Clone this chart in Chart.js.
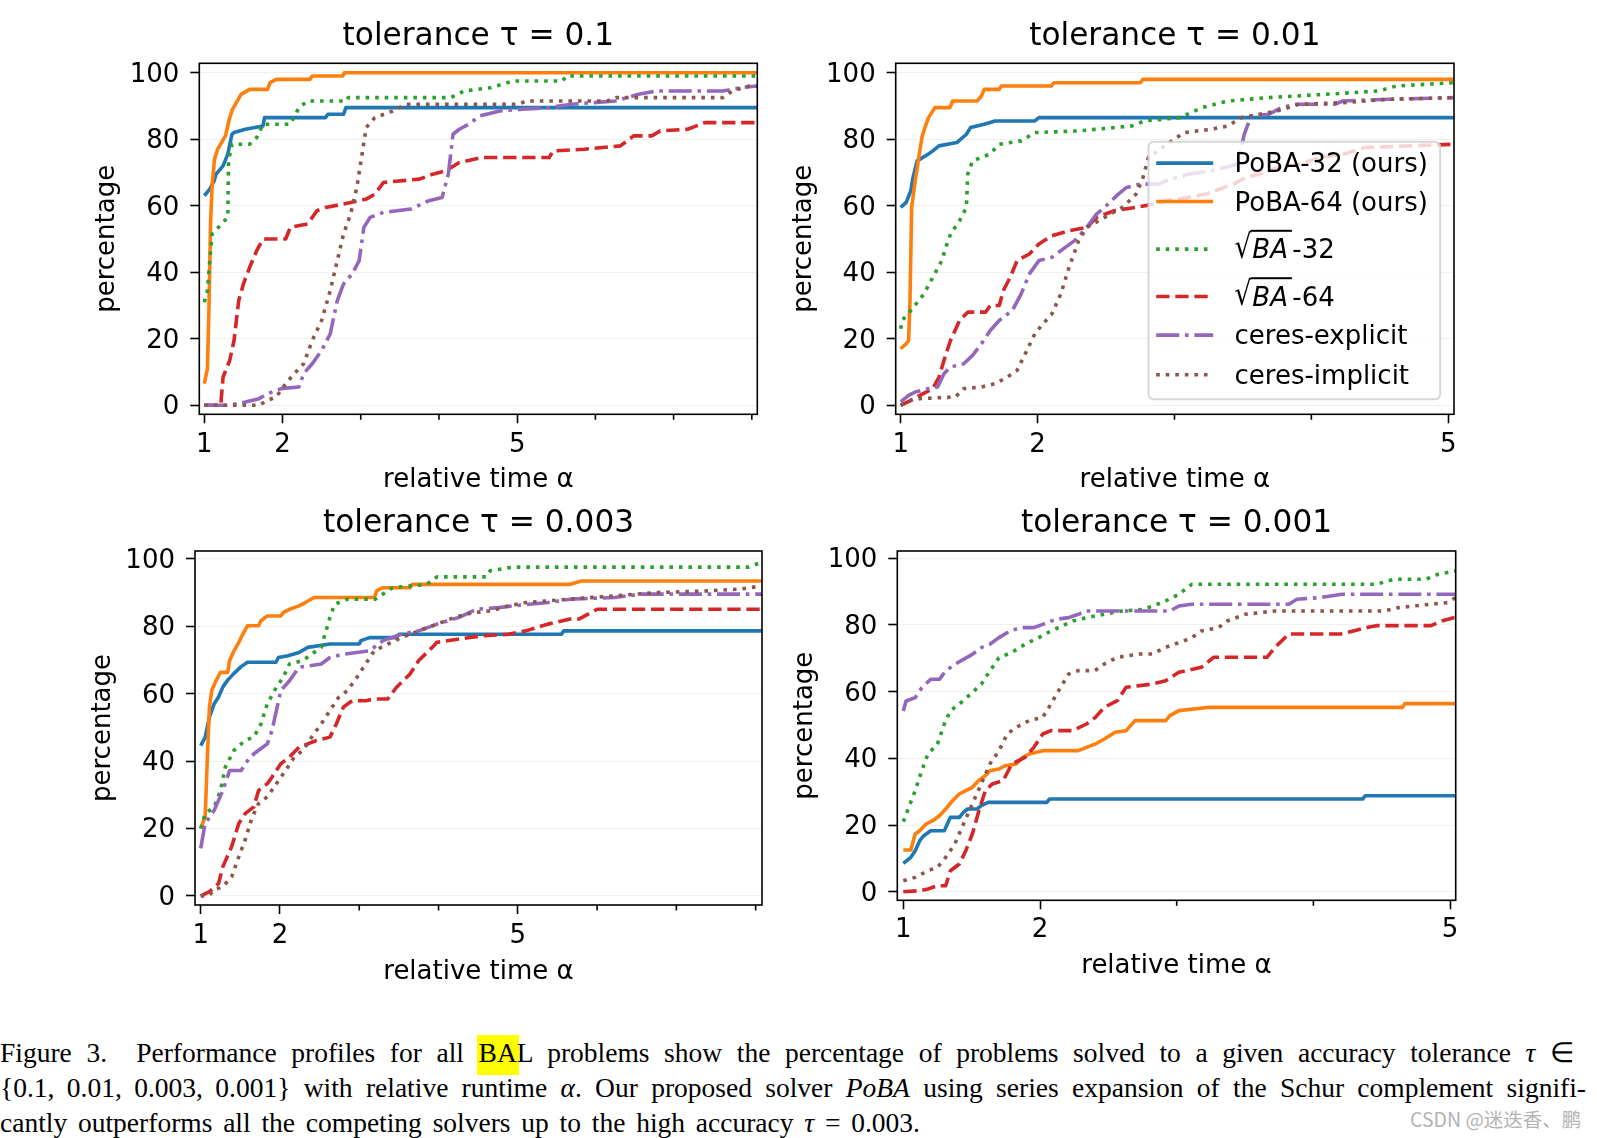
<!DOCTYPE html>
<html><head><meta charset="utf-8">
<script src="https://cdn.jsdelivr.net/npm/chart.js@4.4.1/dist/chart.umd.min.js"></script>
<style>
html,body{margin:0;padding:0;background:#fff;}
body{width:1597px;height:1138px;position:relative;overflow:hidden;}
canvas.panel{position:absolute;}
#cap{position:absolute;left:0;top:1034.8px;font-family:"Liberation Serif","Times New Roman",serif;font-size:27.5px;line-height:35.2px;color:#000;}
.l{white-space:nowrap;}
.j{text-align:justify;text-align-last:justify;white-space:normal;}
.hl{background:#ffff00;padding:2px 2px 7px 2px;margin:0 -2px;}
.ib{display:inline-block;white-space:nowrap;word-spacing:5.5px;}
.l3{word-spacing:3.9px;}
#wm{position:absolute;left:1410px;top:1104px;font-family:"Noto Sans CJK SC",sans-serif;font-size:19.5px;color:#b3b3b3;white-space:nowrap;}
</style></head><body>
<canvas id="c0" class="panel" width="770" height="500" style="left:0;top:0;width:770px;height:500px"></canvas>
<canvas id="c1" class="panel" width="827" height="500" style="left:770px;top:0;width:827px;height:500px"></canvas>
<canvas id="c2" class="panel" width="770" height="500" style="left:0;top:500px;width:770px;height:500px"></canvas>
<canvas id="c3" class="panel" width="827" height="500" style="left:770px;top:500px;width:827px;height:500px"></canvas>
<div id="cap">
<div class="l j" style="width:1574px">Figure 3.&nbsp; Performance profiles for all <span class="hl">BA</span>L problems show the percentage of problems solved to a given accuracy tolerance <i>τ</i> ∈</div>
<div class="l j" style="width:1586px"><span class="ib">{0.1, 0.01, 0.003, 0.001}</span> with relative runtime <i>α</i>. Our proposed solver <i>PoBA</i> using series expansion of the Schur complement signifi-</div>
<div class="l l3">cantly outperforms all the competing solvers up to the high accuracy <i>τ</i> = 0.003.</div>
</div>
<div id="wm">CSDN @迷迭香、鹏</div>
<script>
// ---------- labels / ticks ----------
const SERIES_LABELS = ['PoBA-32 (ours)', 'PoBA-64 (ours)', '√BA-32', '√BA-64', 'ceres-explicit', 'ceres-implicit'];
const PANEL_TITLES = ['tolerance τ = 0.1', 'tolerance τ = 0.01', 'tolerance τ = 0.003', 'tolerance τ = 0.001'];
const X_TITLE = 'relative time α';
const Y_TITLE = 'percentage';
const X_MAJOR_TICKS = [1, 2, 5];
const X_MINOR_TICKS_WIDE = [3, 4, 6, 7, 8];
const X_MINOR_TICKS_NARROW = [3, 4];
const Y_TICKS = [0, 20, 40, 60, 80, 100];

// ---------- tolerance 0.1 ----------
const T1_POBA32_X = [1.0, 1.07, 1.126, 1.15, 1.24, 1.30, 1.354, 1.38, 1.525, 1.75, 1.77, 2.55, 2.58, 2.78, 2.81, 8.07];
const T1_POBA32_Y = [63, 65, 67.5, 69.5, 72, 75.5, 81.5, 82, 83, 84, 86.5, 86.5, 87.5, 87.5, 89.5, 89.5];
const T1_POBA64_X = [1.0, 1.04, 1.06, 1.08, 1.10, 1.13, 1.17, 1.22, 1.27, 1.32, 1.36, 1.41, 1.47, 1.58, 1.81, 1.84, 1.92, 2.35, 2.38, 2.77, 2.79, 8.07];
const T1_POBA64_Y = [6.5, 11, 30, 55, 66, 74, 77, 79, 81, 86, 89, 91, 93.5, 95, 95, 97, 98, 98, 99, 99, 100, 100];
const T1_SQBA32_X = [1.0, 1.04, 1.07, 1.10, 1.18, 1.30, 1.31, 1.354, 1.58, 1.67, 1.75, 2.10, 2.21, 2.32, 2.82, 2.84, 4.15, 4.32, 4.66, 4.95, 5.58, 5.63, 8.07];
const T1_SQBA32_Y = [31, 34.5, 43.5, 51.5, 53.5, 56.5, 73.5, 78.5, 78.5, 80.5, 84.5, 84.5, 89.5, 91.5, 91.5, 92.5, 92.5, 94.5, 95.5, 97.5, 97.5, 99, 99];
const T1_SQBA64_X = [1.0, 1.21, 1.24, 1.325, 1.38, 1.44, 1.50, 1.58, 1.67, 1.75, 2.04, 2.10, 2.32, 2.44, 2.55, 2.78, 3.07, 3.18, 3.29, 3.75, 3.92, 4.09, 4.26, 4.55, 5.41, 5.46, 5.86, 6.32, 6.49, 6.72, 6.83, 7.18, 7.40, 8.07];
const T1_SQBA64_Y = [0, 0, 8.5, 13.5, 19.5, 31.5, 36.5, 41.5, 46.5, 50, 50, 53.5, 54.5, 58.5, 59.5, 60.5, 62, 63.5, 67, 68, 69.5, 70.5, 73, 74.5, 74.5, 76.5, 77, 78, 81, 81, 82.5, 83, 85, 85];
const T1_CEXP_X = [1.0, 1.325, 1.525, 1.70, 1.81, 1.98, 2.21, 2.27, 2.38, 2.50, 2.61, 2.70, 2.78, 2.89, 2.98, 3.04, 3.12, 3.29, 3.64, 3.87, 4.04, 4.12, 4.18, 4.26, 4.38, 4.52, 4.78, 5.06, 5.41, 5.69, 6.26, 6.55, 6.78, 7.63, 7.86, 8.07];
const T1_CEXP_Y = [0, 0, 1, 2, 3.5, 5, 5.5, 9.5, 12.5, 16.5, 21.5, 31.5, 36.5, 39.5, 43.5, 53.5, 56.5, 58, 59, 61.5, 62.5, 69.5, 81.5, 83, 84.5, 87, 88.5, 89, 89.5, 90.5, 91.5, 93.5, 94.5, 94.5, 95.5, 96];
const T1_CIMP_X = [1.0, 1.70, 1.81, 1.92, 2.04, 2.15, 2.27, 2.38, 2.50, 2.61, 2.70, 2.78, 2.87, 2.95, 3.01, 3.07, 3.18, 3.41, 3.58, 5.01, 5.12, 6.15, 6.26, 7.63, 7.75, 7.97, 8.07];
const T1_CIMP_Y = [0, 0, 1.5, 2.5, 6.5, 9.5, 12.5, 19.5, 25.5, 34.5, 43.5, 51.5, 57.5, 65.5, 74.5, 83.5, 86.5, 88.5, 90.5, 90.5, 91.5, 91.5, 92.5, 92.5, 94.5, 96, 96];

// ---------- tolerance 0.01 ----------
const T2_POBA32_X = [1.0, 1.04, 1.074, 1.09, 1.12, 1.20, 1.235, 1.28, 1.41, 1.48, 1.51, 1.61, 1.69, 1.98, 2.01, 5.04];
const T2_POBA32_Y = [59.5, 61, 64.5, 68.5, 73.5, 75.5, 76.5, 78, 79, 81.5, 83.5, 84.5, 85.5, 85.5, 86.5, 86.5];
const T2_POBA64_X = [1.0, 1.04, 1.058, 1.068, 1.08, 1.106, 1.132, 1.155, 1.177, 1.203, 1.25, 1.36, 1.38, 1.56, 1.59, 1.61, 1.72, 1.735, 2.10, 2.12, 2.75, 2.77, 5.04];
const T2_POBA64_Y = [17, 18.5, 19.5, 31.5, 59.5, 67.5, 74.5, 80.5, 83.5, 86.5, 89.5, 89.5, 91.5, 91.5, 93, 95, 95, 96, 96, 97, 97, 98, 98];
const T2_SQBA32_X = [1.0, 1.01, 1.074, 1.17, 1.235, 1.30, 1.33, 1.364, 1.43, 1.48, 1.49, 1.525, 1.65, 1.72, 1.88, 1.98, 2.30, 2.69, 2.78, 3.04, 3.20, 3.39, 3.68, 4.10, 4.49, 4.62, 5.04];
const T2_SQBA32_Y = [23, 25.5, 28.5, 33.5, 38.5, 43.5, 47.5, 51.5, 55.5, 59.5, 69.5, 73.5, 75.5, 78.5, 79.5, 82, 82.5, 84, 85.5, 86.5, 89.5, 91.5, 92.5, 93.5, 94.5, 96, 97];
const T2_SQBA64_X = [1.0, 1.074, 1.14, 1.235, 1.28, 1.316, 1.364, 1.43, 1.49, 1.62, 1.654, 1.72, 1.75, 1.80, 1.85, 1.94, 2.01, 2.105, 2.23, 2.36, 2.43, 2.56, 2.72, 2.85, 2.94, 3.10, 3.23, 3.43, 3.52, 3.62, 3.75, 3.91, 4.07, 4.23, 4.39, 5.04];
const T2_SQBA64_Y = [0, 1.5, 3, 5, 8.5, 13.5, 19.5, 25.5, 28, 28, 30, 30, 34.5, 38.5, 43.5, 45.5, 48.5, 51, 52.5, 53.5, 56.5, 58.5, 59.5, 60.5, 61.5, 62.5, 63.5, 66.5, 68.5, 69.5, 71.5, 72.5, 74.5, 75.5, 77.5, 78.5];
const T2_CEXP_X = [1.0, 1.058, 1.106, 1.20, 1.27, 1.316, 1.364, 1.46, 1.525, 1.59, 1.654, 1.72, 1.815, 1.88, 1.94, 2.01, 2.105, 2.17, 2.27, 2.36, 2.43, 2.49, 2.59, 2.65, 2.75, 2.88, 2.94, 3.10, 3.27, 3.46, 3.51, 3.56, 3.69, 3.78, 3.88, 4.17, 4.23, 4.56, 5.04];
const T2_CEXP_Y = [1, 3, 4, 5, 5.5, 9.5, 11.5, 12.5, 15, 18.5, 22.5, 25.5, 28.5, 33.5, 39.5, 43.5, 44.5, 46.5, 49.5, 53.5, 57.5, 59.5, 63.5, 65.5, 66.5, 66.5, 67.5, 69.5, 70.5, 72.5, 81.5, 87, 87.5, 89.5, 90.5, 90.5, 91.5, 92, 92.5];
const T2_CIMP_X = [1.0, 1.074, 1.14, 1.40, 1.46, 1.59, 1.69, 1.78, 1.85, 1.91, 1.98, 2.04, 2.105, 2.17, 2.23, 2.30, 2.36, 2.49, 2.62, 2.72, 2.77, 2.81, 2.88, 2.98, 3.07, 3.27, 3.39, 3.49, 3.75, 3.91, 4.23, 4.56, 5.04];
const T2_CIMP_Y = [0, 1.5, 2, 2.5, 5, 5.5, 6.5, 8.5, 10.5, 15.5, 21.5, 24.5, 27.5, 33.5, 41.5, 49.5, 53.5, 56.5, 59.5, 63.5, 68.5, 74.5, 76.5, 79.5, 82, 83, 84, 86.5, 88.5, 90.5, 91, 92, 92.5];

// ---------- tolerance 0.003 ----------
const T3_POBA32_X = [1.0, 1.056, 1.11, 1.17, 1.225, 1.28, 1.34, 1.42, 1.51, 1.59, 1.95, 1.98, 2.10, 2.24, 2.35, 2.63, 3.0, 3.02, 3.13, 3.47, 3.50, 5.55, 5.58, 8.08];
const T3_POBA32_Y = [44.6, 47, 53, 57, 59, 62, 64, 66, 68, 69.3, 69.3, 70.7, 71.2, 72.2, 73.7, 74.7, 74.7, 75.7, 76.6, 76.6, 77.6, 77.6, 78.6, 78.6];
const T3_POBA64_X = [1.0, 1.056, 1.084, 1.11, 1.14, 1.197, 1.25, 1.34, 1.365, 1.42, 1.48, 1.53, 1.59, 1.73, 1.76, 1.84, 2.01, 2.04, 2.12, 2.24, 2.32, 2.43, 3.19, 3.22, 3.30, 3.64, 3.67, 5.66, 5.80, 8.08];
const T3_POBA64_Y = [20, 23.5, 41, 56, 61, 64, 66.3, 66.3, 69.8, 72.7, 75.2, 77.6, 80.1, 80.1, 81.6, 83, 83, 84, 85, 86, 87, 88.5, 88.5, 90.5, 91.4, 91.4, 92.4, 92.4, 93.4, 93.4];
const T3_SQBA32_X = [1.0, 1.056, 1.17, 1.25, 1.31, 1.42, 1.56, 1.67, 1.76, 1.84, 1.955, 2.04, 2.12, 2.29, 2.40, 2.52, 2.63, 2.69, 2.85, 3.20, 3.42, 3.85, 3.98, 4.60, 4.65, 4.93, 7.91, 8.08];
const T3_SQBA32_Y = [20, 24.4, 26.4, 31.3, 38.2, 43.2, 46.1, 47.1, 51, 57, 61.9, 64.8, 68.8, 69.8, 71.7, 73.7, 82.6, 86.5, 88, 88, 91.4, 92.4, 94.6, 94.6, 96.4, 97.5, 97.5, 99];
const T3_SQBA64_X = [1.0, 1.11, 1.225, 1.28, 1.39, 1.48, 1.56, 1.67, 1.73, 1.84, 1.90, 2.01, 2.12, 2.24, 2.35, 2.46, 2.63, 2.71, 2.80, 2.91, 3.08, 3.19, 3.36, 3.47, 3.64, 3.75, 3.92, 3.98, 4.26, 4.54, 4.88, 5.10, 5.38, 5.66, 5.77, 6.0, 8.08];
const T3_SQBA64_Y = [0, 1.3, 3.7, 8.7, 14.6, 21.5, 24.4, 26.4, 31.3, 33.3, 35.3, 39.2, 41.2, 44.1, 45.1, 46.1, 47.1, 51, 56, 57.9, 57.9, 58.4, 58.4, 61.9, 65.8, 69.8, 73.7, 75.2, 76.2, 77.1, 77.6, 78.6, 80.6, 82.1, 82.1, 85, 85];
const T3_CEXP_X = [1.0, 1.056, 1.17, 1.28, 1.365, 1.51, 1.62, 1.73, 1.84, 1.90, 1.955, 2.01, 2.12, 2.24, 2.52, 2.63, 2.80, 3.13, 3.30, 3.53, 3.75, 3.98, 4.26, 4.48, 4.76, 4.93, 5.38, 5.66, 6.22, 6.56, 8.08];
const T3_CEXP_Y = [14.1, 21.5, 25.4, 31.3, 37.2, 37.2, 41.2, 43.2, 45.1, 49.1, 55, 60.9, 63.8, 67.8, 68.8, 70.7, 71.7, 72.7, 75.7, 77.6, 78.6, 80.6, 82.6, 85, 85.5, 86, 87, 88, 88.5, 89.5, 89.5];
const T3_CIMP_X = [1.0, 1.1, 1.17, 1.28, 1.39, 1.48, 1.56, 1.65, 1.73, 1.84, 1.955, 2.07, 2.18, 2.29, 2.40, 2.52, 2.63, 2.74, 2.85, 2.97, 3.08, 3.19, 3.36, 3.53, 3.75, 3.98, 4.20, 4.43, 4.65, 4.88, 5.10, 5.66, 6.22, 6.79, 7.35, 7.80, 8.08];
const T3_CIMP_Y = [0, 0, 1.8, 2.8, 5.7, 11.6, 16.6, 23.4, 27.4, 29.4, 33.3, 37.2, 41.2, 43.2, 47.1, 51, 55, 58.9, 60.9, 64.8, 68.8, 72.7, 74.7, 76.6, 78.6, 80.6, 82.6, 84, 84.5, 86, 87, 88, 89, 90, 90.4, 91, 91.9];

// ---------- tolerance 0.001 ----------
const T4_POBA32_X = [1.0, 1.055, 1.087, 1.12, 1.15, 1.20, 1.30, 1.344, 1.41, 1.44, 1.47, 1.54, 1.57, 1.62, 2.05, 2.07, 4.36, 4.38, 5.04];
const T4_POBA32_Y = [8.5, 10.3, 12.3, 15.3, 16.8, 18.3, 18.3, 22.3, 22.3, 23.8, 24.8, 24.8, 25.8, 26.8, 26.8, 27.8, 27.8, 28.8, 28.8];
const T4_POBA64_X = [1.0, 1.055, 1.087, 1.12, 1.167, 1.215, 1.264, 1.31, 1.36, 1.41, 1.457, 1.505, 1.55, 1.60, 1.633, 1.70, 1.746, 1.826, 1.875, 1.92, 2.02, 2.28, 2.34, 2.405, 2.47, 2.55, 2.63, 2.695, 2.92, 2.95, 3.016, 3.24, 4.65, 4.67, 5.04];
const T4_POBA64_Y = [12.5, 12.5, 17.3, 18.3, 20.3, 21.3, 22.8, 24.8, 27.3, 29.3, 30.3, 31.3, 33.3, 34.8, 36.3, 36.8, 37.8, 38.3, 40.3, 41.3, 42.3, 42.3, 43.3, 44.3, 45.8, 47.8, 48.3, 51.3, 51.3, 52.8, 54.3, 55.3, 55.3, 56.4, 56.4];
const T4_SQBA32_X = [1.0, 1.04, 1.087, 1.135, 1.18, 1.25, 1.30, 1.344, 1.41, 1.49, 1.57, 1.633, 1.70, 1.79, 1.89, 1.99, 2.08, 2.16, 2.24, 2.34, 2.47, 2.60, 2.76, 2.855, 2.92, 3.016, 3.11, 4.46, 4.59, 4.82, 4.91, 5.04];
const T4_SQBA32_Y = [21, 25.3, 30.3, 36.3, 41.3, 44.3, 50.3, 54.3, 56.3, 59.2, 62.2, 66.2, 70.2, 71.7, 74.2, 76.2, 78.2, 79.7, 81.2, 82.2, 83.2, 84.2, 84.7, 86.2, 87.2, 89.2, 92.2, 92.2, 93.7, 93.7, 95.2, 96.2];
const T4_SQBA64_X = [1.0, 1.12, 1.18, 1.25, 1.31, 1.344, 1.41, 1.457, 1.505, 1.553, 1.60, 1.65, 1.73, 1.794, 1.89, 1.955, 2.02, 2.08, 2.24, 2.34, 2.405, 2.47, 2.566, 2.63, 2.73, 2.823, 2.92, 3.016, 3.18, 3.27, 3.66, 3.72, 3.82, 4.20, 4.30, 4.40, 4.46, 4.86, 4.945, 5.04];
const T4_SQBA64_Y = [0, 0.3, 0.8, 1.8, 1.8, 6.3, 8.3, 12.3, 17.3, 24.3, 30.3, 32.3, 33.3, 38.3, 40.3, 43.3, 47.3, 48.3, 48.3, 50.3, 52.3, 55.3, 57.3, 61.3, 61.8, 62.3, 63.3, 65.8, 67.3, 70.3, 70.3, 73.3, 77.3, 77.3, 78.3, 79.3, 79.8, 79.8, 81.3, 82.3];
const T4_CEXP_X = [1.0, 1.02, 1.087, 1.135, 1.20, 1.264, 1.31, 1.376, 1.44, 1.505, 1.57, 1.633, 1.70, 1.78, 1.86, 1.955, 2.02, 2.116, 2.21, 2.28, 2.34, 2.95, 3.016, 3.11, 3.82, 3.88, 4.045, 4.21, 5.04];
const T4_CEXP_Y = [54.2, 57.2, 58.2, 61.2, 63.7, 63.7, 66.2, 68.2, 69.7, 71.2, 73.2, 74.2, 76.2, 78.2, 79.2, 79.2, 80.2, 81.7, 82.2, 83.2, 84.2, 84.2, 85.7, 86.2, 86.2, 87.7, 88.2, 89.2, 89.2];
const T4_CIMP_X = [1.0, 1.087, 1.18, 1.25, 1.31, 1.376, 1.44, 1.505, 1.57, 1.633, 1.70, 1.76, 1.826, 1.92, 2.02, 2.08, 2.15, 2.21, 2.28, 2.40, 2.47, 2.566, 2.73, 2.82, 2.92, 3.05, 3.11, 3.18, 3.305, 3.37, 3.50, 3.72, 4.52, 4.62, 4.85, 4.98, 5.04];
const T4_CIMP_Y = [3.3, 4.3, 6.3, 7.3, 10.3, 14.3, 20.3, 26.3, 32.3, 38.3, 42.3, 47.3, 49.3, 51.3, 52.3, 56.3, 61.3, 65.3, 66.3, 66.3, 68.3, 70.3, 71.3, 71.3, 73.3, 75.2, 76.2, 78.2, 79.2, 81.2, 83.2, 84.2, 84.2, 85.2, 86.2, 86.7, 88.2];

// ---------- styles ----------
const FONT = 'DejaVu Sans';
const LW = 3.6;
const COLORS = ['#1f77b4', '#ff7f0e', '#2ca02c', '#d62728', '#9467bd', '#8c564b'];
const DASHES = [[], [], [LW, LW * 1.65], [LW * 3.7, LW * 1.6], [LW * 6.4, LW * 1.6, LW, LW * 1.6], [LW, LW * 1.65]];

Chart.defaults.font.family = FONT;
Chart.defaults.color = '#000';

const framePlugin = {
  id: 'frame',
  afterDatasetsDraw(chart, args, opts) {
    const {ctx, chartArea: ca} = chart;
    const xs = chart.scales.x;
    ctx.save();
    ctx.strokeStyle = '#000';
    ctx.lineWidth = 1.6;
    ctx.setLineDash([]);
    ctx.beginPath();
    (opts.minor || []).forEach(v => {
      const px = xs.getPixelForValue(v);
      ctx.moveTo(px, ca.bottom);
      ctx.lineTo(px, ca.bottom + 5.5);
    });
    ctx.stroke();
    ctx.strokeRect(ca.left, ca.top, ca.right - ca.left, ca.bottom - ca.top);
    ctx.restore();
  }
};

function rr(ctx, x, y, w, h, r) {
  ctx.beginPath();
  ctx.moveTo(x + r, y);
  ctx.lineTo(x + w - r, y);
  ctx.arcTo(x + w, y, x + w, y + r, r);
  ctx.lineTo(x + w, y + h - r);
  ctx.arcTo(x + w, y + h, x + w - r, y + h, r);
  ctx.lineTo(x + r, y + h);
  ctx.arcTo(x, y + h, x, y + h - r, r);
  ctx.lineTo(x, y + r);
  ctx.arcTo(x, y, x + r, y, r);
  ctx.closePath();
}

function drawSqrtLabel(ctx, x0, yS, label) {
  const suffix = label.replace('√BA', '');
  const top = yS - 19.3, bot = yS + 10, sw = 17.4;
  ctx.font = '26px ' + FONT;
  const m = ctx.measureText('√');
  const asc = m.actualBoundingBoxAscent, desc = m.actualBoundingBoxDescent;
  const gl = m.actualBoundingBoxLeft, gr = m.actualBoundingBoxRight;
  const sy = (bot - top) / (asc + desc), sx = sw / (gl + gr);
  ctx.save();
  ctx.translate(x0 + gl * sx, top + asc * sy);
  ctx.scale(sx, sy);
  ctx.fillText('√', 0, 0);
  ctx.restore();
  ctx.fillRect(x0 + sw - 1.5, top, 57.4 - sw + 1.5, 2);
  ctx.font = 'italic 26px ' + FONT;
  ctx.fillText('BA', x0 + 17.8, yS + 9.3);
  ctx.font = '26px ' + FONT;
  ctx.fillText(suffix, x0 + 57.8, yS + 9.3);
}

const legendPlugin = {
  id: 'legendBox',
  afterDraw(chart, args, opts) {
    if (!opts.show) return;
    const {ctx, chartArea: ca} = chart;
    const W = 291.7, H = 257.5;
    const R = ca.right - 13.8, B = ca.bottom - 15;
    const L = R - W, T = B - H;
    ctx.save();
    rr(ctx, L, T, W, H, 5.2);
    ctx.fillStyle = 'rgba(255,255,255,0.8)';
    ctx.fill();
    ctx.lineWidth = 2;
    ctx.strokeStyle = 'rgba(204,204,204,0.8)';
    ctx.stroke();
    const rows = [21.3, 59.7, 107.3, 154.7, 193.3, 233];
    chart.data.datasets.forEach((ds, i) => {
      const y = T + rows[i];
      ctx.beginPath();
      ctx.setLineDash(ds.borderDash || []);
      ctx.lineDashOffset = 0;
      ctx.lineCap = 'butt';
      ctx.strokeStyle = ds.borderColor;
      ctx.lineWidth = ds.borderWidth;
      ctx.moveTo(L + 7.7, y);
      ctx.lineTo(L + 64.7, y);
      ctx.stroke();
      ctx.setLineDash([]);
      ctx.fillStyle = '#000';
      ctx.textAlign = 'left';
      ctx.textBaseline = 'alphabetic';
      const tx = L + 86;
      if (ds.label.startsWith('√')) {
        drawSqrtLabel(ctx, tx, y, ds.label);
      } else {
        ctx.font = '26px ' + FONT;
        ctx.fillText(ds.label, tx, y + 9.3);
      }
    });
    ctx.restore();
  }
};

// ---------- panels (layout) ----------
const PANELS = [
  {id: 'c0', title: PANEL_TITLES[0], series: [[T1_POBA32_X, T1_POBA32_Y], [T1_POBA64_X, T1_POBA64_Y], [T1_SQBA32_X, T1_SQBA32_Y], [T1_SQBA64_X, T1_SQBA64_Y], [T1_CEXP_X, T1_CEXP_Y], [T1_CIMP_X, T1_CIMP_Y]],
   xmin: 0.936, xmax: 8.07, ymin: -2.71, ymax: 102.83, minor: X_MINOR_TICKS_WIDE,
   padR: 12.7, tTop: 18.3, tBot: 7.56, yW: 199.3, yTitlePad: 91.7, xH: 85.7, xTickPad: 6.1, xTitlePad: 4.0, legend: false},
  {id: 'c1', title: PANEL_TITLES[1], series: [[T2_POBA32_X, T2_POBA32_Y], [T2_POBA64_X, T2_POBA64_Y], [T2_SQBA32_X, T2_SQBA32_Y], [T2_SQBA64_X, T2_SQBA64_Y], [T2_CEXP_X, T2_CEXP_Y], [T2_CIMP_X, T2_CIMP_Y]],
   xmin: 0.9635, xmax: 5.042, ymin: -2.71, ymax: 102.83, minor: X_MINOR_TICKS_NARROW,
   padR: 143, tTop: 18.3, tBot: 7.56, yW: 125.7, yTitlePad: 18.5, xH: 85.7, xTickPad: 6.1, xTitlePad: 4.5, legend: true},
  {id: 'c2', title: PANEL_TITLES[2], series: [[T3_POBA32_X, T3_POBA32_Y], [T3_POBA64_X, T3_POBA64_Y], [T3_SQBA32_X, T3_SQBA32_Y], [T3_SQBA64_X, T3_SQBA64_Y], [T3_CEXP_X, T3_CEXP_Y], [T3_CIMP_X, T3_CIMP_Y]],
   xmin: 0.928, xmax: 8.08, ymin: -2.67, ymax: 102.28, minor: X_MINOR_TICKS_WIDE,
   padR: 8, tTop: 5.3, tBot: 8.26, yW: 195, yTitlePad: 87.2, xH: 95, xTickPad: 7.1, xTitlePad: 12.5, legend: false},
  {id: 'c3', title: PANEL_TITLES[3], series: [[T4_POBA32_X, T4_POBA32_Y], [T4_POBA64_X, T4_POBA64_Y], [T4_SQBA32_X, T4_SQBA32_Y], [T4_SQBA64_X, T4_SQBA64_Y], [T4_CEXP_X, T4_CEXP_Y], [T4_CIMP_X, T4_CIMP_Y]],
   xmin: 0.956, xmax: 5.041, ymin: -2.58, ymax: 102.19, minor: X_MINOR_TICKS_NARROW,
   padR: 141.3, tTop: 5.3, tBot: 8.26, yW: 127.3, yTitlePad: 20.1, xH: 99.7, xTickPad: 5.1, xTitlePad: 18.2, legend: false}
];

function buildPanel(p) {
  const datasets = p.series.map((s, i) => ({
    label: SERIES_LABELS[i],
    data: s[0].map((x, j) => ({x: x, y: s[1][j]})),
    borderColor: COLORS[i],
    backgroundColor: COLORS[i],
    borderWidth: LW,
    borderDash: DASHES[i],
    borderCapStyle: 'butt',
    borderJoinStyle: 'round',
    pointRadius: 0,
    pointHoverRadius: 0,
    fill: false,
    tension: 0,
    order: 6 - i
  }));
  const tickFont = {family: FONT, size: 26, lineHeight: 1.2};
  new Chart(document.getElementById(p.id), {
    type: 'line',
    data: {datasets},
    options: {
      responsive: false,
      animation: false,
      devicePixelRatio: 1,
      events: [],
      layout: {padding: {left: 0, top: 0, right: p.padR, bottom: 0}},
      plugins: {
        legend: {display: false},
        tooltip: {enabled: false},
        title: {display: true, text: p.title, fullSize: false, color: '#000',
          font: {family: FONT, size: 31.2, weight: 'normal', lineHeight: 1.2},
          padding: {top: p.tTop, bottom: p.tBot}},
        frame: {minor: p.minor},
        legendBox: {show: p.legend}
      },
      scales: {
        x: {
          type: 'linear', min: p.xmin, max: p.xmax,
          afterBuildTicks: s => { s.ticks = X_MAJOR_TICKS.map(v => ({value: v})); },
          afterFit: s => { s.height = p.xH; },
          ticks: {font: tickFont, color: '#000', padding: p.xTickPad, maxRotation: 0, autoSkip: false,
            callback: v => String(v)},
          grid: {display: true, drawOnChartArea: false, drawTicks: true, tickLength: 9, tickWidth: 1.6, tickColor: '#000'},
          border: {display: false},
          title: {display: true, text: X_TITLE, color: '#000', font: tickFont, padding: {top: 0, bottom: p.xTitlePad}}
        },
        y: {
          type: 'linear', min: p.ymin, max: p.ymax,
          afterBuildTicks: s => { s.ticks = Y_TICKS.map(v => ({value: v})); },
          afterFit: s => { s.width = p.yW; },
          ticks: {font: tickFont, color: '#000', padding: 11, labelOffset: 2.2, callback: v => String(v)},
          grid: {display: true, drawOnChartArea: true, color: 'rgba(0,0,0,0.06)', lineWidth: 1, drawTicks: true, tickLength: 9, tickWidth: 1.6, tickColor: '#000'},
          border: {display: false},
          title: {display: true, text: Y_TITLE, color: '#000', font: tickFont, padding: {top: p.yTitlePad, bottom: 0}}
        }
      }
    },
    plugins: [framePlugin, legendPlugin]
  });
}

PANELS.forEach(buildPanel);
</script>
</body></html>
